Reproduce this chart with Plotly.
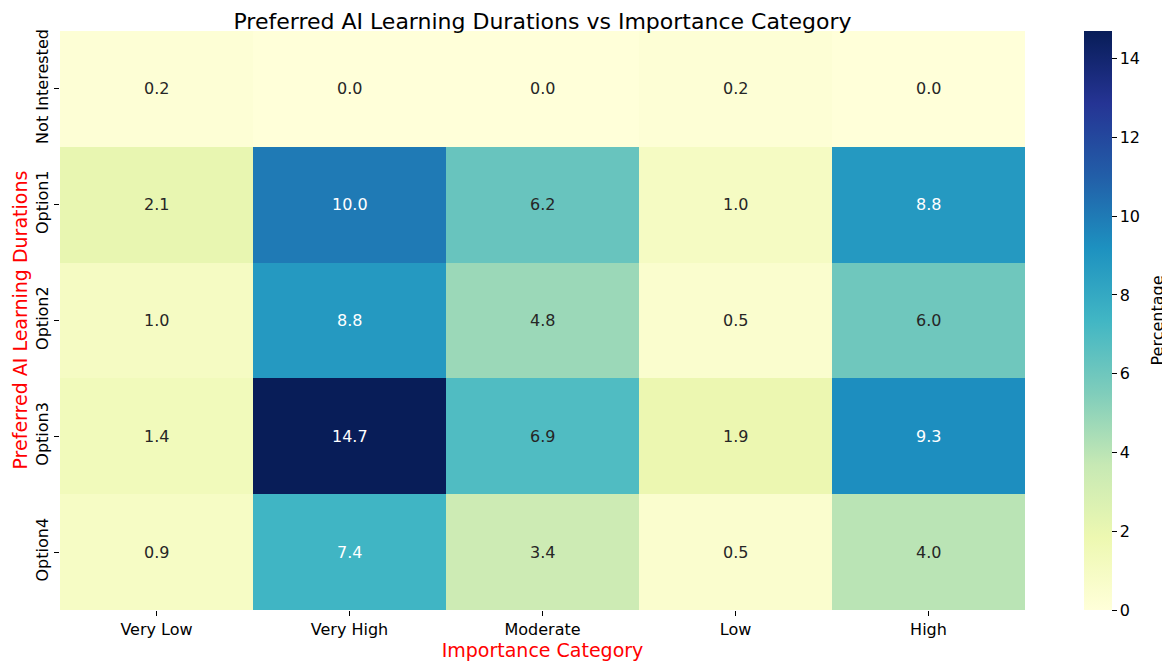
import plotly.graph_objects as go
import plotly.colors as pc

# Datos (porcentajes)
categorias_importancia = ['Very Low', 'Very High', 'Moderate', 'Low', 'High']
duraciones = ['Not Interested', 'Option1', 'Option2', 'Option3', 'Option4']

not_interested = [0.2, 0.0, 0.0, 0.2, 0.0]
option1 = [2.1, 10.0, 6.2, 1.0, 8.8]
option2 = [1.0, 8.8, 4.8, 0.5, 6.0]
option3 = [1.4, 14.7, 6.9, 1.9, 9.3]
option4 = [0.9, 7.4, 3.4, 0.5, 4.0]

matriz = [not_interested, option1, option2, option3, option4]

fuente = 'DejaVu Sans'
escala = pc.sequential.YlGnBu
vmax = max(max(fila) for fila in matriz)

# la pagina tiene 8px de margen en el body: la figura se achica para que no haya scroll
ancho, alto = 1162, 653
izq, der, arriba, abajo = 52, 145, 23, 51
ancho_plot = ancho - izq - der
desplaz = 8

fig = go.Figure()
fig.add_trace(go.Heatmap(
    z=matriz,
    x=categorias_importancia,
    y=duraciones,
    colorscale=escala,
    zmin=0,
    zmax=vmax,
    hoverongaps=False,
    colorbar=dict(
        x=(1084 - desplaz - izq) / ancho_plot, xanchor='left', xpad=0,
        y=0.5, yanchor='middle', len=1.0, lenmode='fraction', ypad=0,
        thickness=28, outlinewidth=0,
        ticks='outside', ticklen=5, tickcolor='black',
        tickvals=[0, 2, 4, 6, 8, 10, 12, 14],
        tickfont=dict(family=fuente, size=16, color='black'),
    ),
))

# Anotaciones de cada celda, texto blanco sobre celdas oscuras
for i, fila in enumerate(matriz):
    for j, valor in enumerate(fila):
        color = 'white' if valor > 7.2 else '#262626'
        fig.add_annotation(x=categorias_importancia[j], y=duraciones[i], text=f'{valor:.1f}',
                           showarrow=False, font=dict(family=fuente, size=16, color=color))

# titulo de la barra de color
fig.add_annotation(xref='paper', yref='paper', x=(1157 - desplaz - izq) / ancho_plot, y=0.5,
                   xanchor='center', yanchor='middle',
                   text='Percentage', textangle=-90, showarrow=False,
                   font=dict(family=fuente, size=16, color='black'))

# titulo del eje y
fig.add_annotation(xref='paper', yref='paper', x=(19 - desplaz - izq) / ancho_plot, y=0.5,
                   xanchor='center', yanchor='middle',
                   text='Preferred AI Learning Durations', textangle=-90, showarrow=False,
                   font=dict(family=fuente, size=19, color='red'))

fig.update_layout(
    width=ancho, height=alto,
    margin=dict(l=izq, r=der, t=arriba, b=abajo),
    paper_bgcolor='white', plot_bgcolor='white',
    font=dict(family=fuente, color='black'),
    title=dict(text='Preferred AI Learning Durations vs Importance Category',
               x=((60 + 1025) / 2 - desplaz) / ancho, xanchor='center', y=0.991, yanchor='top',
               font=dict(family=fuente, size=22, color='black')),
    xaxis=dict(title=dict(text='Importance Category', font=dict(family=fuente, size=19, color='red'), standoff=7),
               ticks='outside', ticklen=5, tickcolor='black', showgrid=False, zeroline=False,
               tickfont=dict(family=fuente, size=16, color='black'), automargin=False),
    yaxis=dict(autorange='reversed', ticks='outside', ticklen=5, tickcolor='black', showgrid=False, zeroline=False,
               tickangle=-90, tickfont=dict(family=fuente, size=16, color='black'), automargin=False),
)

fig.write_html('out.html')
